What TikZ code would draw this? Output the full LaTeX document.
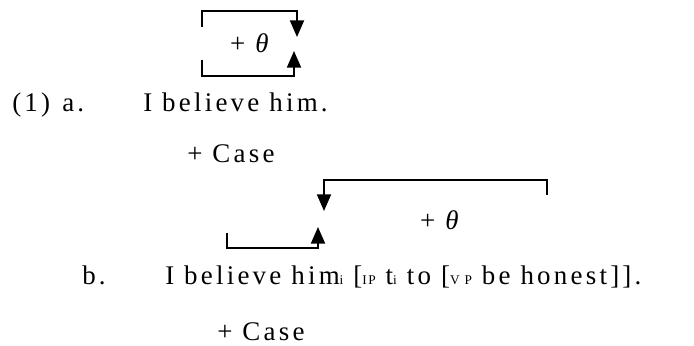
\documentclass[tikz,border=0pt]{standalone}
\usepackage{fontspec}
\setmainfont{Liberation Serif}[LetterSpace=12]
\usepackage{tikz}
\usetikzlibrary{arrows.meta, positioning}
\newcommand{\sub}[1]{{\fontsize{10}{10}\selectfont #1}}

\begin{document}
\begin{tikzpicture}[x=0.75pt, y=-0.75pt,
    txt/.style={inner sep=0pt, anchor=base west, font=\fontsize{20.2}{24}\selectfont},
    role/.style={inner sep=0pt, font=\fontsize{20.2}{24}\selectfont},
    link/.style={line width=1.5pt},
    hook/.style={link, -{Triangle[length=12.5pt, width=10.5pt]}}]
  \useasboundingbox (0,0) rectangle (694,346);
  % example a
  \node[txt] (numa) at (12,112) {(1)};
  \node[txt] (laba) at (62,112) {a.};
  \node[txt] (senta) at (143,112) {I believe him.};
  \node[txt] (casea) at (187,163) {+ Case};
  \node[role] (thetaa) at (251,43) {+ \textit{θ}};
  \coordinate (tha) at (202,27);
  \coordinate (thb) at (297,37);
  \coordinate (caa) at (202,60);
  \coordinate (cab) at (294,51);
  \draw[hook] (tha) -- ++(0,-16) -| (thb);
  \draw[hook] (caa) -- ++(0,16) -| (cab);
  % example b
  \node[txt] (labb) at (82,285) {b.};
  \node[txt] (sentb) at (165,285) {I believe him\sub{i} [\sub{IP} t\sub{i} to [\sub{V P} be honest]].};
  \node[txt] (caseb) at (217,340) {+ Case};
  \node[role] (thetab) at (441,220) {+ \textit{θ}};
  \coordinate (thc) at (547,195);
  \coordinate (thd) at (324,211);
  \coordinate (cac) at (227,233);
  \coordinate (cad) at (318,227);
  \draw[hook] (thc) -- ++(0,-15) -| (thd);
  \draw[hook] (cac) -- ++(0,15) -| (cad);
\end{tikzpicture}
\end{document}
